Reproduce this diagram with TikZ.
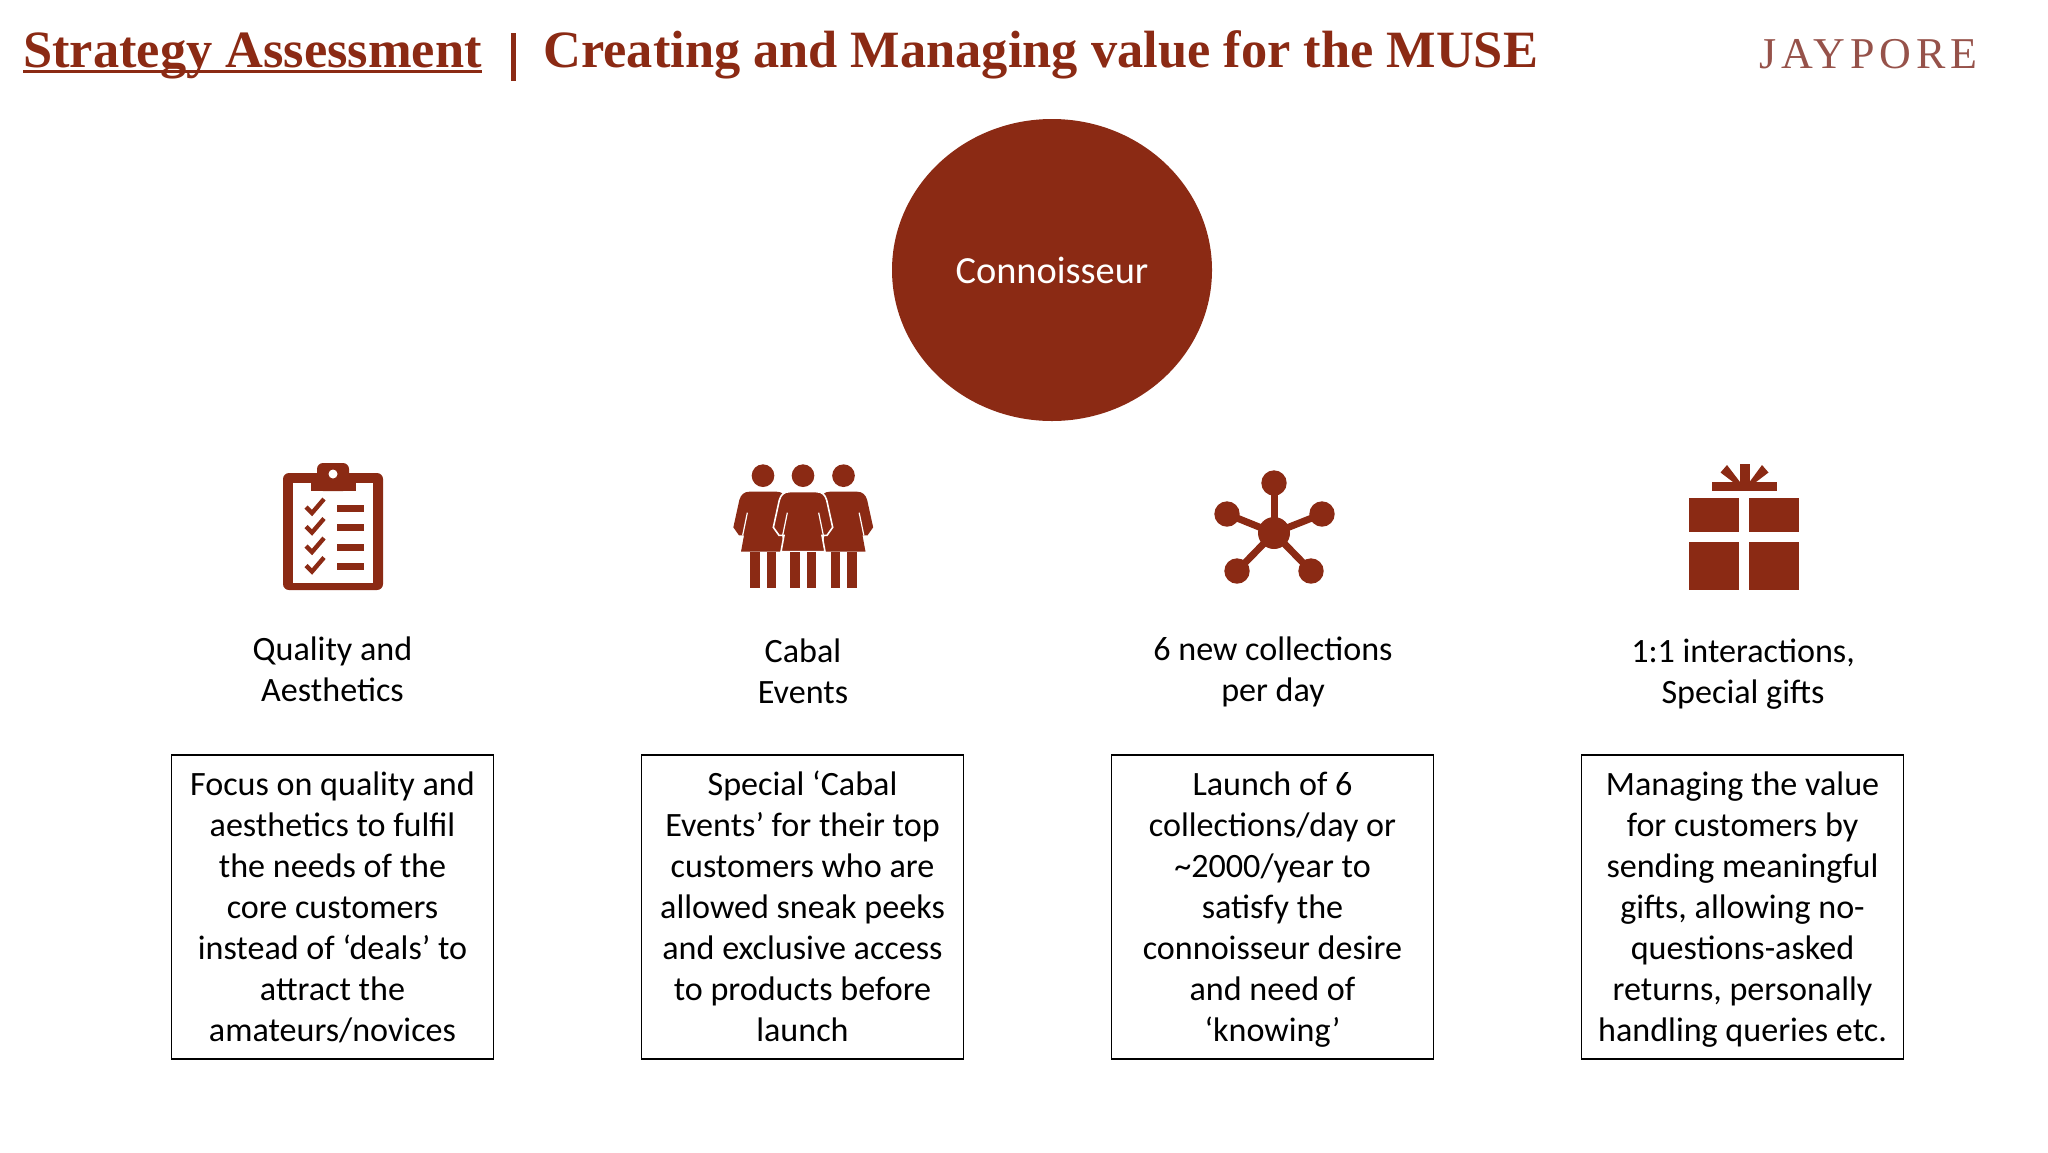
\documentclass[tikz,border=0pt]{standalone}
\usepackage{fontspec}
\usetikzlibrary{shapes.geometric}
\setmainfont{Carlito}
\newfontfamily\titlefont{Liberation Serif}
\newfontfamily\logofont[LetterSpace=11]{Liberation Serif}
\definecolor{brick}{HTML}{8B2A14}
\definecolor{logotone}{HTML}{96524A}
\newcommand{\topstrut}{\rule{0pt}{17.8pt}}
\tikzset{
  titletext/.style={font=\titlefont\bfseries\fontsize{26.2}{30}\selectfont,text=brick,inner sep=0pt,anchor=base west},
  bodytext/.style={font=\fontsize{17.05}{20.45}\selectfont,text=black,align=center,inner sep=0pt},
  infobox/.style={bodytext,draw=black,line width=0.75pt,minimum width=161pt,minimum height=152pt},
  icon/.style={fill=brick,draw=none}
}
\newcommand{\personshape}[2]{%
  \begin{scope}[shift={(#1,450)}]
  \begin{scope}[x=0.16667pt,y=-0.16667pt]
    \fill[brick] (0,77) circle[radius=34];
    \path[fill=brick,#2] (-40,125) -- (40,125) .. controls (56,125) and (66,133) .. (71,150)
      -- (89,232) -- (72,256) -- (57,256) -- (66,305) -- (-66,305) -- (-57,256) -- (-72,256)
      -- (-89,232) -- (-71,150) .. controls (-66,133) and (-56,125) .. (-40,125) -- cycle;
    \draw[white,line width=0.6pt] (-47,188) -- (-61,256);
    \draw[white,line width=0.6pt] (47,188) -- (61,256);
    \fill[brick] (-39,305) rectangle (-10,415);
    \fill[brick] (11,305) rectangle (40,415);
  \end{scope}
  \end{scope}
}
\begin{document}
\begin{tikzpicture}[x=0.5pt,y=-0.5pt]
\useasboundingbox (0,0) rectangle (2048,1152);

% title
\node[titletext] (t1) at (23,67.5) {Strategy Assessment};
\node[titletext] (t2) at (543,67.5) {Creating and Managing value for the MUSE};
\draw[brick,line width=1.2pt] (t1.west |- 0,71.5) -- (t1.east |- 0,71.5);
\fill[brick] (511,33) rectangle (516,81);
\node[font=\logofont\fontsize{22}{24}\selectfont,text=logotone,inner sep=0pt,anchor=base west] (logo) at (1759,68) {JAYPORE};

% circle
\node[ellipse,fill=brick,minimum width=160pt,minimum height=151pt,inner sep=0pt,text=white,font=\fontsize{19.2}{23}\selectfont] (hub) at (1052,270) {Connoisseur};

% clipboard
\fill[icon,rounded corners=3pt] (283,473) rectangle (383,590);
\fill[white] (293,483) rectangle (373,583);
\fill[icon,rounded corners=3pt] (317,463) rectangle (349,491);
\fill[icon] (311,482) rectangle (356,491);
\fill[white] (333,474) circle[radius=4.5];
\foreach \yy/\ll in {0/508,19.5/527.5,39/547,58.5/566.5}{
  \draw[brick,line width=2.2pt] (306,507+\yy) -- (312,513+\yy) -- (324,499+\yy);
  \fill[brick] (337,\ll-3.5) rectangle (364,\ll+3.5);
}

% people
\personshape{763}{}
\personshape{843.5}{}
\personshape{803}{draw=white,line width=0.8pt}

% network
\draw[brick,line width=3.5pt] (1274,533) -- (1274,483);
\draw[brick,line width=3.5pt] (1274,533) -- (1227,514);
\draw[brick,line width=3.5pt] (1274,533) -- (1322,514);
\draw[brick,line width=3.5pt] (1274,533) -- (1237,571);
\draw[brick,line width=3.5pt] (1274,533) -- (1311,571);
\fill[brick] (1274,533) circle[radius=16];
\foreach \px/\py in {1274/483,1227/514,1322/514,1237/571,1311/571}{
  \fill[brick] (\px,\py) circle[radius=12.7];
}

% gift
\fill[icon] (1689,498) rectangle (1739,532);
\fill[icon] (1749,498) rectangle (1799,532);
\fill[icon] (1689,542) rectangle (1739,590);
\fill[icon] (1749,542) rectangle (1799,590);
\fill[icon] (1712,482) rectangle (1777,491);
\fill[icon] (1740,464) rectangle (1749.5,482);
\fill[icon] (1720.5,472.5) -- (1727,465) -- (1740,482) -- (1733,482) -- cycle;
\fill[icon] (1768.5,472.5) -- (1762,465) -- (1749.5,482) -- (1756,482) -- cycle;

% labels
\node[bodytext] (l1) at (332.5,672.5) {\strut Quality and\\Aesthetics\strut};
\node[bodytext] (l2) at (803,674.5) {\strut Cabal\\Events\strut};
\node[bodytext] (l3) at (1273,672.5) {\strut 6 new collections\\per day\strut};
\node[bodytext] (l4) at (1743,674.5) {\strut 1:1 interactions,\\Special gifts\strut};

% boxes
\node[infobox] (b1) at (332.5,907) {\topstrut Focus on quality and\\aesthetics to fulfil\\the needs of the\\core customers\\instead of ‘deals’ to\\attract the\\amateurs/novices\strut};
\node[infobox] (b2) at (802.5,907) {\topstrut Special ‘Cabal\\Events’ for their top\\customers who are\\allowed sneak peeks\\and exclusive access\\to products before\\launch\strut};
\node[infobox] (b3) at (1272.5,907) {\topstrut Launch of 6\\collections/day or\\\textasciitilde2000/year to\\satisfy the\\connoisseur desire\\and need of\\‘knowing’\strut};
\node[infobox] (b4) at (1742.5,907) {\topstrut Managing the value\\for customers by\\sending meaningful\\gifts, allowing no-\\questions-asked\\returns, personally\\handling queries etc.\strut};
\end{tikzpicture}
\end{document}
